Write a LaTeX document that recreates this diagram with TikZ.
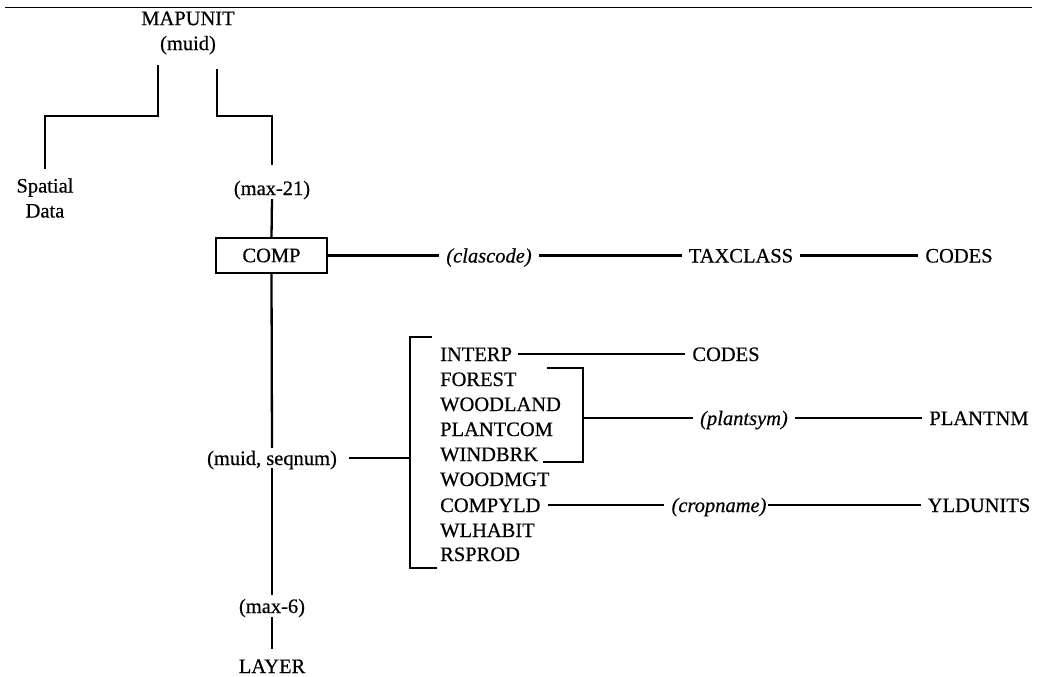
\documentclass[tikz,border=0pt]{standalone}
\usepackage{fontspec}
\setmainfont{Liberation Serif}[FakeBold=0.5]
\begin{document}
\begin{tikzpicture}[x=1pt,y=-1pt,
  conn/.style={line width=2.3pt},
  fnt/.style={font=\fontsize{20.5}{25}\selectfont},
  txt/.style={fnt, inner xsep=7pt, inner ysep=3pt, text height=15pt, text depth=1pt},
  mtxt/.style={fnt, inner xsep=7pt, inner ysep=3pt, align=center},
  itm/.style={fnt, inner sep=0pt, anchor=west, text height=15pt, text depth=1pt},
  boxnode/.style={fnt, draw, line width=2.3pt, minimum width=111pt, minimum height=35pt, inner sep=0pt}]
\useasboundingbox (0,0) rectangle (1047,677);
\draw[line width=1.6pt] (5,7.5) -- (1032,7.5);

% top part
\node[mtxt] (mapunit) at (188,33) {MAPUNIT\\(muid)};
\node[mtxt] (spatial) at (45,198) {Spatial\\Data};
\node[txt] (max21) at (272,188) {(max-21)};
\node[boxnode] (comp) at (271.5,255.5) {COMP};
\coordinate (mL) at (158,65);
\coordinate (mR) at (217,69);
\coordinate (jL) at (158,116);
\coordinate (jR) at (217,116);
\draw[conn] (mL) -- (jL) -| ([yshift=6pt]spatial.north);
\draw[conn] (mR) -- (jR) -| ([yshift=12pt]max21.north);
\draw[conn] (max21.south) -- (comp.north);

% COMP row
\node[txt] (clascode) at (489,255.5) {\itshape (clascode)};
\node[txt] (taxclass) at (741,255.5) {TAXCLASS};
\node[txt] (codesA) at (959,255.5) {CODES};
\draw[conn] (comp.east) -- (clascode.west);
\draw[conn] (clascode.east) -- (taxclass.west);
\draw[conn] (taxclass.east) -- (codesA.west);

% vertical to LAYER
\node[txt, inner xsep=4pt, inner ysep=2pt] (seqnum) at (272,458) {(muid, seqnum)};
\node[txt, inner ysep=3pt] (max6) at (272,606) {(max-6)};
\node[txt] (layer) at (272,666) {LAYER};
\draw[conn] (comp.south) -- (seqnum.north);
\draw[conn] (seqnum.south) -- (max6.north);
\draw[conn] (max6.south) -- ([yshift=6pt]layer.north);

% list of tables
\node[itm] (interp)   at (440,354) {INTERP};
\node[itm] (forest)   at (440,379) {FOREST};
\node[itm] (woodland) at (440,404) {WOODLAND};
\node[itm] (plantcom) at (440,429) {PLANTCOM};
\node[itm] (windbrk)  at (440,454) {WINDBRK};
\node[itm] (woodmgt)  at (440,479) {WOODMGT};
\node[itm] (compyld)  at (440,505) {COMPYLD};
\node[itm] (wlhabit)  at (440,530) {WLHABIT};
\node[itm] (rsprod)   at (440,554) {RSPROD};

% left bracket
\coordinate (bT) at (432,337);
\coordinate (bB) at (437,568);
\coordinate (bM) at (410,458);
\draw[conn] (bT) -- (410,337) -- (410,568) -- (bB);
\draw[conn] ([xshift=8pt]seqnum.east) -- (bM);

% INTERP row
\node[txt] (codesB) at (726,354) {CODES};
\draw[conn] ([xshift=6pt]interp.east) -- (codesB.west);

% right bracket
\coordinate (rT) at (547,368);
\coordinate (rB) at (543,462);
\coordinate (rM) at (583,418);
\draw[conn] (rT) -- (583,368) -- (583,462) -- (rB);
\node[txt] (plantsym) at (744,418) {\itshape (plantsym)};
\node[txt] (plantnm) at (979,418) {PLANTNM};
\draw[conn] (rM) -- (plantsym.west);
\draw[conn] (plantsym.east) -- (plantnm.west);

% COMPYLD row
\node[txt] (cropname) at (719,505) {\itshape (cropname)};
\node[txt] (yldunits) at (979,505) {YLDUNITS};
\draw[conn] ([xshift=7pt]compyld.east) -- (cropname.west);
\draw[conn] ([xshift=-6pt]cropname.east) -- (yldunits.west);
\end{tikzpicture}
\end{document}
